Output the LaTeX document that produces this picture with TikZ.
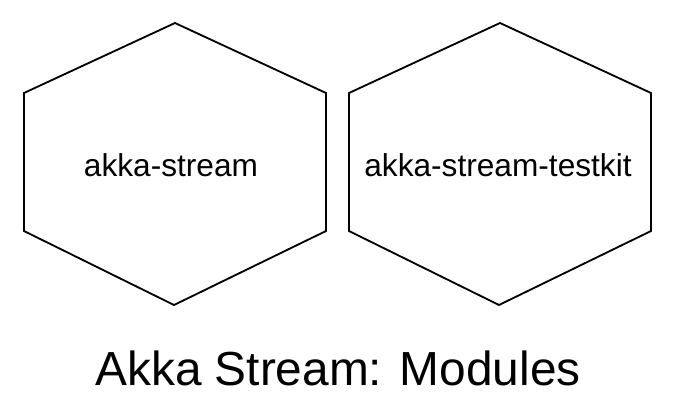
\documentclass[tikz,border=0pt]{standalone}
\usepackage{fontspec}
\setmainfont{Liberation Sans}
\begin{document}
\begin{tikzpicture}[x=0.025cm,y=-0.025cm]
				\useasboundingbox (0,0) rectangle (675,407);
				\tikzset{hexa/.style={line width=1.3pt,line join=miter}}
				
				\node (stream) at (175,164) {};
				\node (testkit) at (500,164) {};
				\foreach \h in {stream,testkit}
					\draw [hexa,shift={(\h.center)}] (0,-141) -- (151,-71) -- (151,67) -- (-1,141) -- (-151,67) -- (-151,-71) -- cycle;
				
				\begin{scope}[every node/.style={inner sep=0pt,font=\fontsize{22.5}{27}\selectfont}]
					\node (streamlabel) at (171,165) {akka-stream};
					\node (testkitlabel) at (498,165) {akka-stream-testkit};
				\end{scope}
				\node [font=\fontsize{34}{40}\selectfont] (title) at (338,368) {Akka Stream: Modules};
			\end{tikzpicture}
\end{document}
